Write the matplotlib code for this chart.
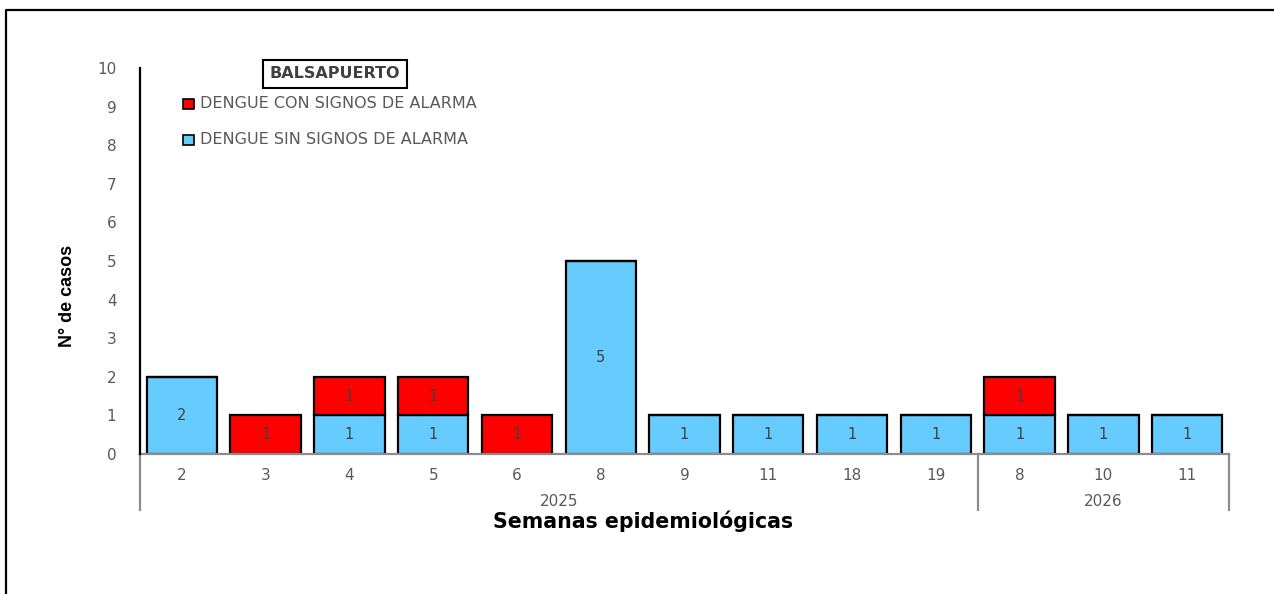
import matplotlib
matplotlib.use('Agg')
import matplotlib.pyplot as plt
from matplotlib.patches import Rectangle
from matplotlib.lines import Line2D
import numpy as np

# semanas epidemiologicas
semanas = ['2', '3', '4', '5', '6', '8', '9', '11', '18', '19', '8', '10', '11']
anios = ['2025', '2026']
n_por_anio = [10, 3]

sin_alarma = [2, 0, 1, 1, 0, 5, 1, 1, 1, 1, 1, 1, 1]
con_alarma = [0, 1, 1, 1, 1, 0, 0, 0, 0, 0, 1, 0, 0]

c_sin = '#66CCFF'
c_con = '#FF0000'
gris = '#595959'

W, H = 1274, 594
fig = plt.figure(figsize=(W / 100, H / 100), dpi=100)
ax = fig.add_axes([140 / W, 1 - 454 / H, (1229 - 140) / W, (454 - 68) / H])

x = np.arange(len(semanas))
sin_arr = np.array(sin_alarma)
con_arr = np.array(con_alarma)

ax.bar(x, sin_arr, width=0.84, color=c_sin, edgecolor='black', linewidth=1.6, zorder=2)
ax.bar(x, con_arr, width=0.84, bottom=sin_arr, color=c_con, edgecolor='black', linewidth=1.6, zorder=2)

# etiquetas dentro de las barras
for i in range(len(semanas)):
    if sin_arr[i] > 0:
        ax.text(x[i], sin_arr[i] / 2, str(sin_arr[i]), ha='center', va='center', fontsize=10.5, color='#404040')
    if con_arr[i] > 0:
        ax.text(x[i], sin_arr[i] + con_arr[i] / 2, str(con_arr[i]), ha='center', va='center', fontsize=10.5, color='#404040')

ax.set_xlim(-0.5, len(semanas) - 0.5)
ax.set_ylim(0, 10)
ax.set_yticks(range(0, 11))
ax.tick_params(axis='y', length=0, pad=17, labelsize=11, labelcolor=gris)
ax.set_xticks(x)
ax.set_xticklabels(semanas)
ax.tick_params(axis='x', length=0, pad=10, labelsize=11, labelcolor=gris)

for s in ['top', 'right']:
    ax.spines[s].set_visible(False)
ax.spines['left'].set_color('black')
ax.spines['left'].set_linewidth(1.6)
ax.spines['left'].set_zorder(3)
ax.spines['bottom'].set_color('#8c8c8c')
ax.spines['bottom'].set_linewidth(1.6)

# separadores de anio
trans = ax.get_xaxis_transform()
bordes = [-0.5]
for n in n_por_anio:
    bordes.append(bordes[-1] + n)
for b in bordes:
    ax.plot([b, b], [0, -0.145], color='#8c8c8c', linewidth=1.6, transform=trans, clip_on=False)
for i, a in enumerate(anios):
    ax.text((bordes[i] + bordes[i + 1]) / 2, -0.123, a, transform=trans, ha='center', va='center',
            fontsize=11, color=gris)

fig.text(643 / W, 1 - 521 / H, 'Semanas epidemiológicas', ha='center', va='center',
         fontsize=14.8, fontweight='bold', family='DejaVu Sans')
fig.text(68 / W, 1 - 296 / H, 'N° de casos', ha='center', va='center', rotation=90,
         fontsize=13, fontweight='bold', family='Liberation Sans')

# titulo con recuadro
fig.text(335 / W, 1 - 74 / H, 'BALSAPUERTO', ha='center', va='center', fontsize=11.5,
         fontweight='bold', color='#404040',
         bbox=dict(boxstyle='square,pad=0.4', facecolor='white', edgecolor='black', linewidth=1.5))

# leyenda
ley = [('DENGUE CON SIGNOS DE ALARMA', c_con, 104), ('DENGUE SIN SIGNOS DE ALARMA', c_sin, 140)]
for txt, col, yy in ley:
    fig.patches.append(Rectangle((183 / W, 1 - (yy + 5) / H), 11 / W, 10 / H, transform=fig.transFigure,
                                 facecolor=col, edgecolor='black', linewidth=1.2))
    fig.text(200 / W, 1 - yy / H, txt, ha='left', va='center', fontsize=11.5, color=gris)

# marco
fig.add_artist(Line2D([6 / W, 6 / W, 1], [0, 1 - 10 / H, 1 - 10 / H], transform=fig.transFigure,
                      color='black', linewidth=1.6))

plt.savefig('out.png', dpi=100)
